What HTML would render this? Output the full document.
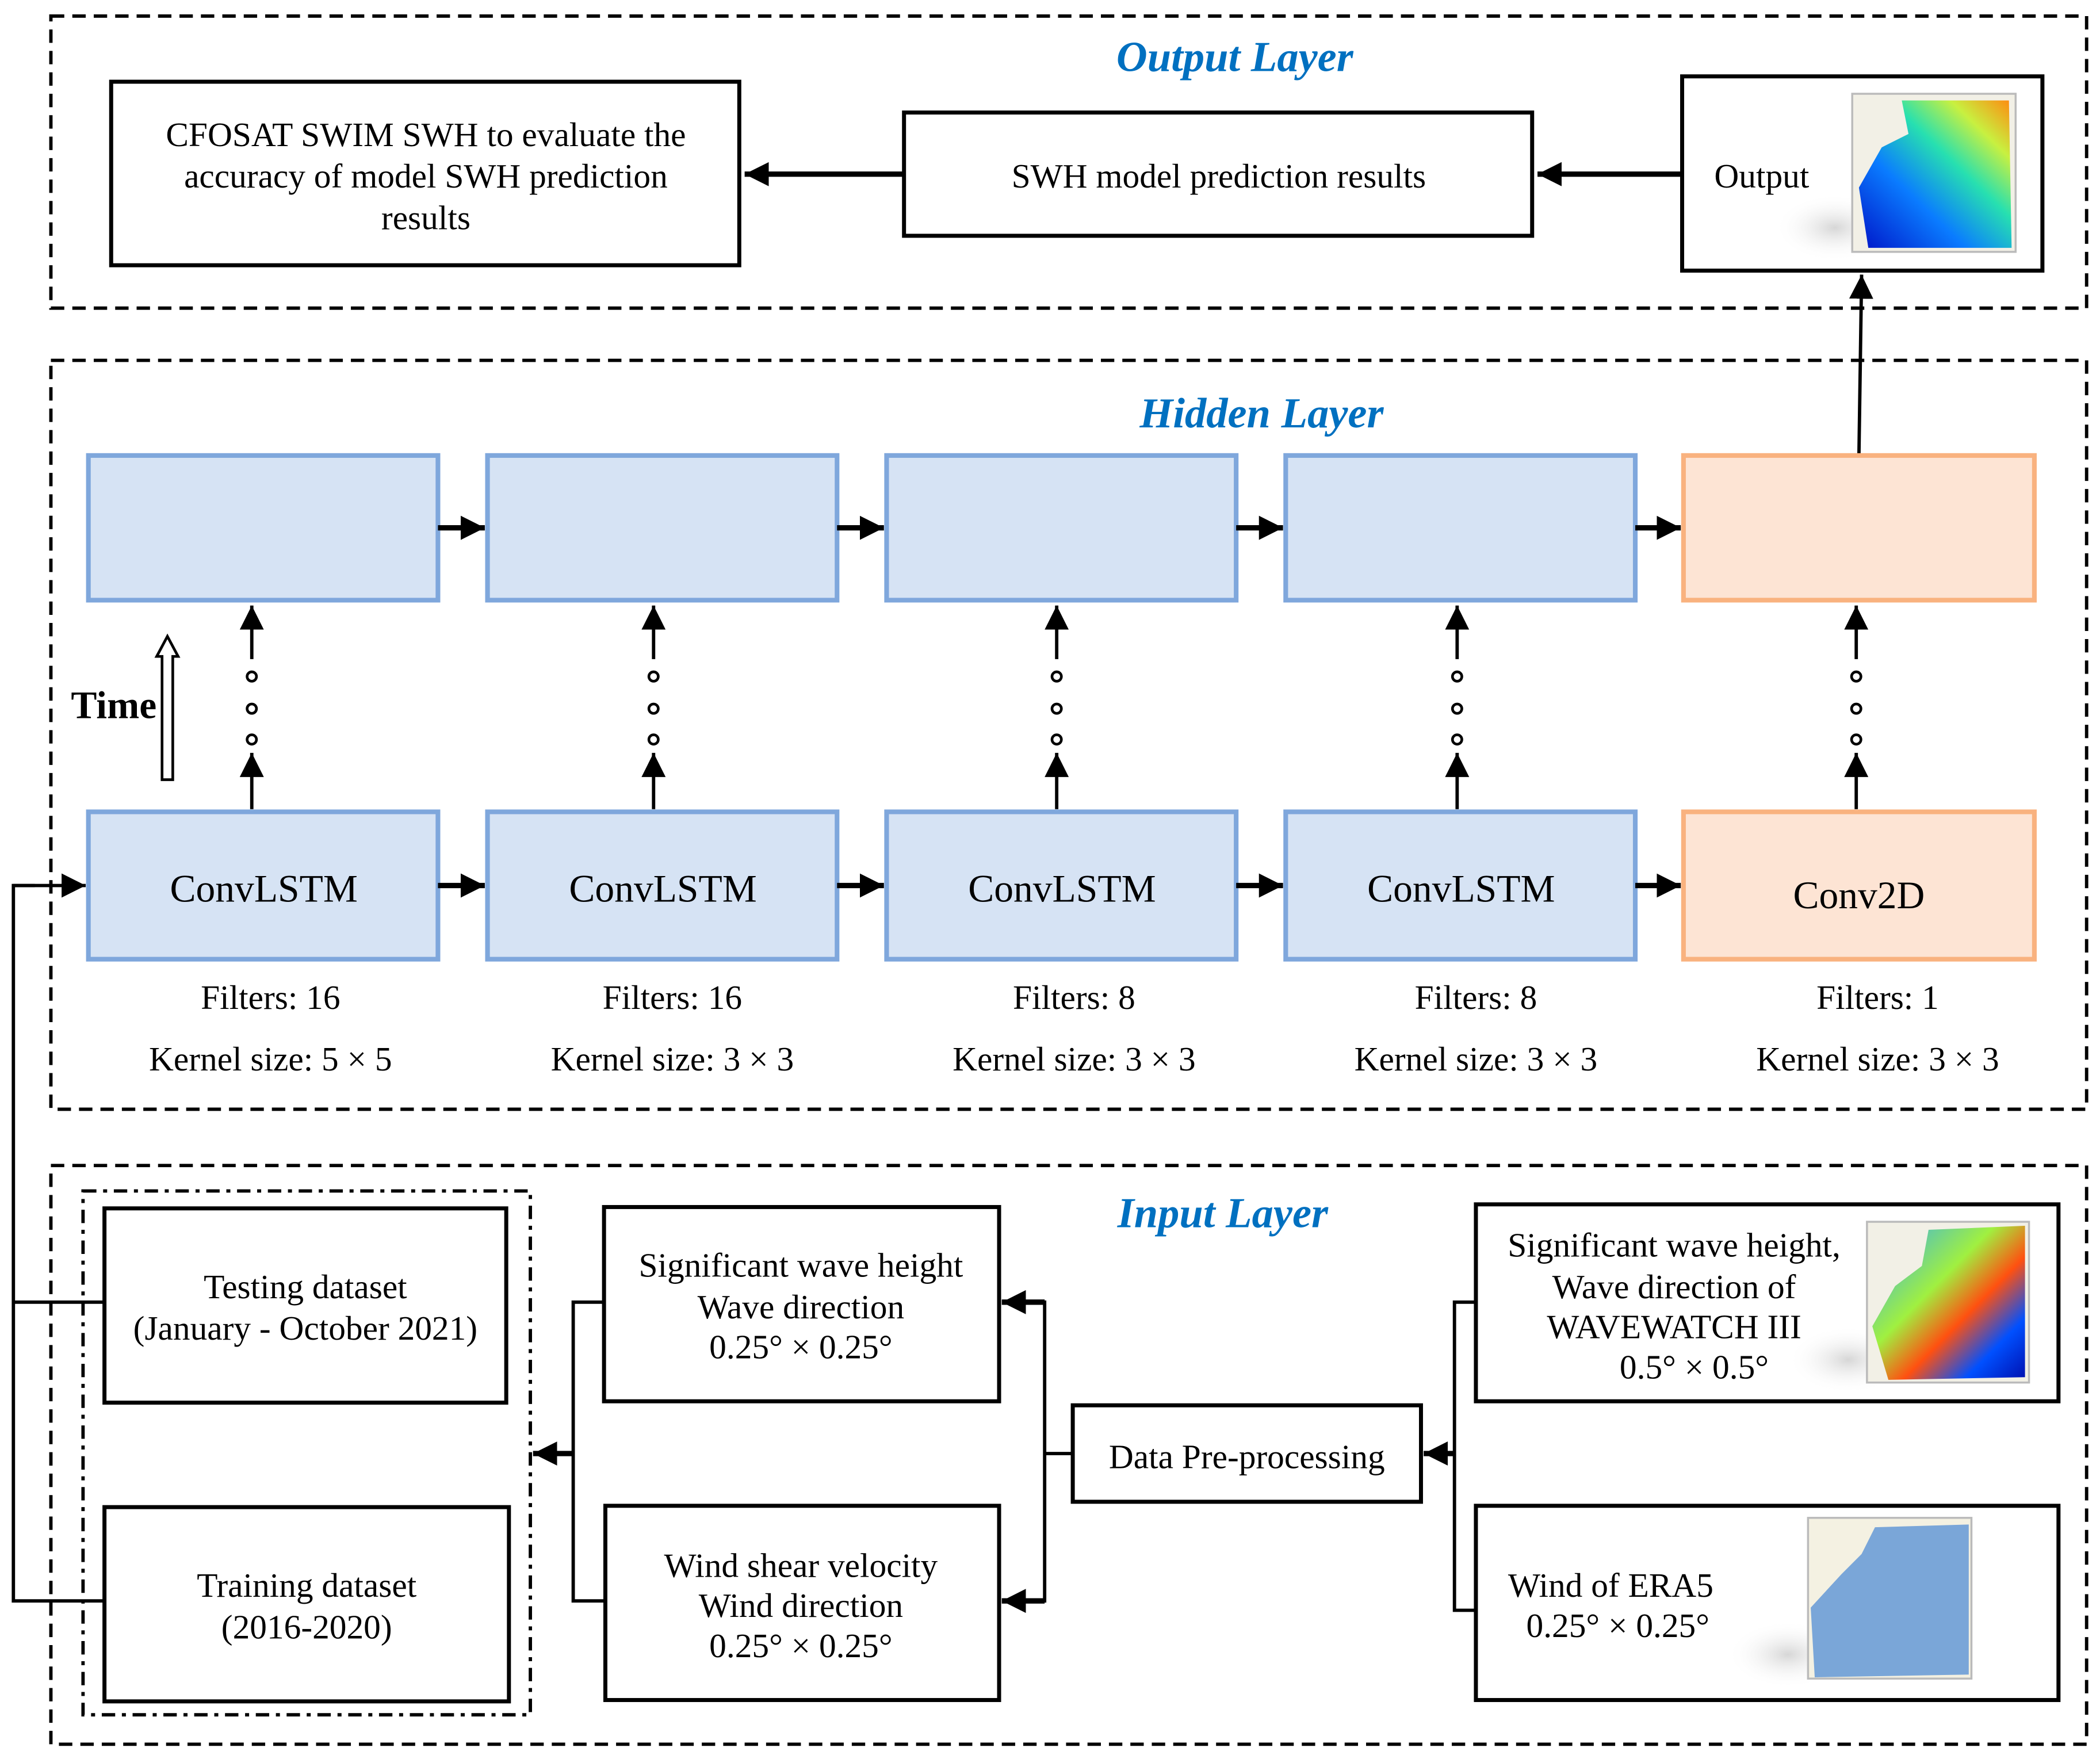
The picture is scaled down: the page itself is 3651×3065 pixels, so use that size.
<!DOCTYPE html>
<html><head><meta charset="utf-8"><style>
html,body{margin:0;padding:0;background:#fff}
svg{display:block}
text{font-family:"Liberation Serif",serif;fill:#000}
.t{font-size:25.5px;text-anchor:middle}
.h{font-size:32px;font-weight:bold;font-style:italic;fill:#0070C0;text-anchor:middle}
.b{fill:#fff;stroke:#000;stroke-width:3}
.d{fill:none;stroke:#000;stroke-width:2.5;stroke-dasharray:10 6}
.bl{fill:#D6E3F4;stroke:#7FA7DC;stroke-width:3.5}
.or{fill:#FDE4D4;stroke:#F9B27F;stroke-width:3.5}
.l{stroke:#000;stroke-width:2.5;fill:none}
.L{stroke:#000;stroke-width:4;fill:none}
</style></head><body>
<svg width="3651" height="3065" viewBox="0 0 1568 1316" preserveAspectRatio="none" xmlns="http://www.w3.org/2000/svg">
<defs>
<marker id="A" markerWidth="20" markerHeight="20" refX="18" refY="10" orient="auto" markerUnits="userSpaceOnUse"><path d="M0,1 L18,10 L0,19 Z" fill="#000"/></marker>
<linearGradient id="g1" x1="0" y1="1" x2="1" y2="0"><stop offset="0" stop-color="#0015c8"/><stop offset="0.35" stop-color="#0a7cff"/><stop offset="0.6" stop-color="#27e0b0"/><stop offset="0.8" stop-color="#c8f040"/><stop offset="1" stop-color="#ff8a10"/></linearGradient>
<linearGradient id="g2" x1="0" y1="0" x2="1" y2="1"><stop offset="0" stop-color="#2aa8ff"/><stop offset="0.4" stop-color="#a0f040"/><stop offset="0.6" stop-color="#ff5010"/><stop offset="0.8" stop-color="#0050ff"/><stop offset="1" stop-color="#0010b0"/></linearGradient>
<radialGradient id="sh"><stop offset="0" stop-color="#bbb" stop-opacity="0.6"/><stop offset="1" stop-color="#fff" stop-opacity="0"/></radialGradient>
</defs>

<!-- Output layer -->
<rect class="d" x="38" y="12" width="1520" height="218"/>
<text class="h" x="922" y="53">Output Layer</text>
<rect class="b" x="83" y="61" width="469" height="137"/>
<text class="t" x="318" y="109">CFOSAT SWIM SWH to evaluate the</text>
<text class="t" x="318" y="140">accuracy of model SWH prediction</text>
<text class="t" x="318" y="171">results</text>
<rect class="b" x="675" y="84" width="469" height="92"/>
<text class="t" x="910" y="140">SWH model prediction results</text>
<rect class="b" x="1256" y="57" width="269" height="145"/>
<text x="1280" y="140" style="font-size:25.5px">Output</text>
<ellipse cx="1370" cy="170" rx="45" ry="25" fill="url(#sh)"/>
<rect x="1383" y="70" width="122" height="118" fill="#f2f0e6" stroke="#bbb" stroke-width="1.5"/>
<path d="M1420,75 L1500,75 L1502,185 L1395,185 L1388,140 L1405,110 L1425,100 Z" fill="url(#g1)"/>
<line class="L" x1="675" y1="130" x2="556" y2="130" marker-end="url(#A)"/>
<line class="L" x1="1256" y1="130" x2="1148" y2="130" marker-end="url(#A)"/>
<line class="l" x1="1388" y1="340" x2="1390" y2="205" marker-end="url(#A)"/>

<!-- Hidden layer -->
<rect class="d" x="38" y="269" width="1520" height="559"/>
<text class="h" x="942" y="319">Hidden Layer</text>
<rect class="bl" x="66" y="340" width="261" height="108"/>
<rect class="bl" x="364" y="340" width="261" height="108"/>
<rect class="bl" x="662" y="340" width="261" height="108"/>
<rect class="bl" x="960" y="340" width="261" height="108"/>
<rect class="or" x="1257" y="340" width="262" height="108"/>
<rect class="bl" x="66" y="606" width="261" height="110"/>
<rect class="bl" x="364" y="606" width="261" height="110"/>
<rect class="bl" x="662" y="606" width="261" height="110"/>
<rect class="bl" x="960" y="606" width="261" height="110"/>
<rect class="or" x="1257" y="606" width="262" height="110"/>
<g style="font-size:29px;text-anchor:middle">
<text x="197" y="673">ConvLSTM</text>
<text x="495" y="673">ConvLSTM</text>
<text x="793" y="673">ConvLSTM</text>
<text x="1091" y="673">ConvLSTM</text>
<text x="1388" y="678">Conv2D</text>
</g>
<line class="L" x1="327" y1="394" x2="362" y2="394" marker-end="url(#A)"/>
<line class="L" x1="625" y1="394" x2="660" y2="394" marker-end="url(#A)"/>
<line class="L" x1="923" y1="394" x2="958" y2="394" marker-end="url(#A)"/>
<line class="L" x1="1221" y1="394" x2="1255" y2="394" marker-end="url(#A)"/>
<line class="L" x1="327" y1="661" x2="362" y2="661" marker-end="url(#A)"/>
<line class="L" x1="625" y1="661" x2="660" y2="661" marker-end="url(#A)"/>
<line class="L" x1="923" y1="661" x2="958" y2="661" marker-end="url(#A)"/>
<line class="L" x1="1221" y1="661" x2="1255" y2="661" marker-end="url(#A)"/>
<g id="va">
<line class="l" x1="188" y1="604" x2="188" y2="562" marker-end="url(#A)"/>
<line class="l" x1="188" y1="492" x2="188" y2="452" marker-end="url(#A)"/>
<circle cx="188" cy="505" r="3.5" fill="none" stroke="#000" stroke-width="2"/>
<circle cx="188" cy="529" r="3.5" fill="none" stroke="#000" stroke-width="2"/>
<circle cx="188" cy="552" r="3.5" fill="none" stroke="#000" stroke-width="2"/>
</g>
<use href="#va" x="300"/>
<use href="#va" x="601"/>
<use href="#va" x="900"/>
<use href="#va" x="1198"/>
<g class="t">
<text x="202" y="753">Filters: 16</text><text x="202" y="799">Kernel size: 5 × 5</text>
<text x="502" y="753">Filters: 16</text><text x="502" y="799">Kernel size: 3 × 3</text>
<text x="802" y="753">Filters: 8</text><text x="802" y="799">Kernel size: 3 × 3</text>
<text x="1102" y="753">Filters: 8</text><text x="1102" y="799">Kernel size: 3 × 3</text>
<text x="1402" y="753">Filters: 1</text><text x="1402" y="799">Kernel size: 3 × 3</text>
</g>
<text x="53" y="536" style="font-size:29px;font-weight:bold">Time</text>
<path d="M121,582 L121,490 L117,490 L125,475 L133,490 L129,490 L129,582 Z" fill="#fff" stroke="#000" stroke-width="2"/>

<!-- left connector -->
<polyline class="l" points="78,972 10,972"/>
<polyline class="l" points="78,1195 10,1195 10,661 26,661"/>
<line class="l" x1="10" y1="661" x2="64" y2="661" marker-end="url(#A)"/>

<!-- Input layer -->
<rect class="d" x="38" y="870" width="1520" height="432"/>
<rect x="62" y="889" width="334" height="391" fill="none" stroke="#000" stroke-width="2.5" stroke-dasharray="10 5 3 5"/>
<text class="h" x="913" y="916">Input Layer</text>
<rect class="b" x="78" y="902" width="300" height="145"/>
<text class="t" x="228" y="969">Testing dataset</text>
<text class="t" x="228" y="1000">(January - October 2021)</text>
<rect class="b" x="78" y="1125" width="302" height="145"/>
<text class="t" x="229" y="1192">Training dataset</text>
<text class="t" x="229" y="1223">(2016-2020)</text>
<rect class="b" x="451" y="901" width="295" height="145"/>
<text class="t" x="598" y="953">Significant wave height</text>
<text class="t" x="598" y="984">Wave direction</text>
<text class="t" x="598" y="1014">0.25° × 0.25°</text>
<rect class="b" x="452" y="1124" width="294" height="145"/>
<text class="t" x="598" y="1177">Wind shear velocity</text>
<text class="t" x="598" y="1207">Wind direction</text>
<text class="t" x="598" y="1237">0.25° × 0.25°</text>
<rect class="b" x="801" y="1049" width="260" height="72"/>
<text class="t" x="931" y="1096">Data Pre-processing</text>
<rect class="b" x="1102" y="899" width="435" height="147"/>
<text class="t" x="1250" y="938">Significant wave height,</text>
<text class="t" x="1250" y="969">Wave direction of</text>
<text class="t" x="1250" y="999">WAVEWATCH III</text>
<text class="t" x="1265" y="1029">0.5° × 0.5°</text>
<ellipse cx="1380" cy="1015" rx="45" ry="25" fill="url(#sh)"/>
<rect x="1394" y="912" width="121" height="120" fill="#f2f0e6" stroke="#bbb" stroke-width="1.5"/>
<path d="M1440,918 L1512,915 L1512,1028 L1410,1030 L1398,990 L1415,960 L1435,945 Z" fill="url(#g2)"/>
<rect class="b" x="1102" y="1124" width="435" height="145"/>
<text x="1126" y="1192" style="font-size:25.5px">Wind of ERA5</text>
<text class="t" x="1208" y="1222">0.25° × 0.25°</text>
<ellipse cx="1335" cy="1235" rx="45" ry="25" fill="url(#sh)"/>
<rect x="1350" y="1133" width="122" height="120" fill="#f4f1e2" stroke="#bbb" stroke-width="1.5"/>
<path d="M1400,1140 L1470,1138 L1470,1250 L1355,1252 L1352,1200 L1375,1175 L1390,1160 Z" fill="#7aa6d8"/>

<!-- input connectors -->
<polyline class="l" points="1102,972 1086,972 1086,1202 1102,1202"/>
<line class="L" x1="1086" y1="1085" x2="1063" y2="1085" marker-end="url(#A)"/>
<polyline class="l" points="801,1085 780,1085"/>
<polyline class="l" points="766,972 780,972 780,1195 766,1195"/>
<line class="L" x1="780" y1="972" x2="748" y2="972" marker-end="url(#A)"/>
<line class="L" x1="780" y1="1195" x2="748" y2="1195" marker-end="url(#A)"/>
<polyline class="l" points="451,972 428,972 428,1195 451,1195"/>
<line class="L" x1="428" y1="1085" x2="398" y2="1085" marker-end="url(#A)"/>
</svg>
</body></html>
